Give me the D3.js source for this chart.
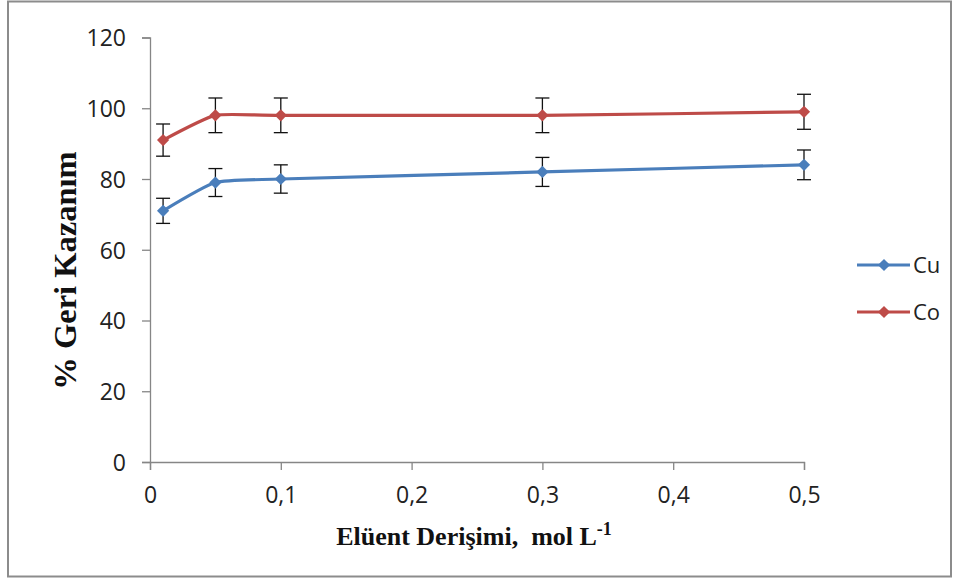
<!DOCTYPE html>
<html><head><meta charset="utf-8">
<script src="https://cdn.jsdelivr.net/npm/d3@7"></script>
<style>body{margin:0;background:#fff}</style>
</head><body>
<svg id="c" width="964" height="580"></svg>
<script>
const xValues = [0.01, 0.05, 0.1, 0.3, 0.5];
const cuValues = [71, 79, 80, 82, 84];
const coValues = [91, 98, 98, 98, 99];
const cuErr = [3.55, 3.95, 4, 4.1, 4.2];
const coErr = [4.55, 4.9, 4.9, 4.9, 4.95];
const xTicks = [0, 0.1, 0.2, 0.3, 0.4, 0.5];
const yTicks = [0, 20, 40, 60, 80, 100, 120];
const seriesNames = ["Cu", "Co"];
const colors = ["#4A7EBB", "#BE4B48"];

const svg = d3.select("#c");
svg.append("rect").attr("x", 8).attr("y", 1.5).attr("width", 943).attr("height", 575)
  .attr("fill", "#fff").attr("stroke", "#8c8c8c").attr("stroke-width", 2);

const x = d3.scaleLinear().domain([0, 0.5]).range([150, 804]);
const y = d3.scaleLinear().domain([0, 120]).range([462, 37.5]);

const fmt = d => String(d).replace(".", ",");
const axisColor = "#868686";
const sans = "'Open Sans', 'Liberation Sans', sans-serif";

const gx = svg.append("g").attr("transform", "translate(0,462)")
  .call(d3.axisBottom(x).tickValues(xTicks).tickFormat(fmt).tickSize(8).tickPadding(17));
const gy = svg.append("g").attr("transform", "translate(150,0)")
  .call(d3.axisLeft(y).tickValues(yTicks).tickSize(8).tickPadding(16));
[gx, gy].forEach(g => {
  g.select(".domain").attr("stroke", axisColor).attr("stroke-width", 1.3);
  g.selectAll(".tick line").attr("stroke", axisColor).attr("stroke-width", 1.3);
  g.selectAll("text").attr("font-family", sans)
    .attr("font-size", 23).attr("fill", "#222");
});
gy.selectAll("text").attr("dy", "0.36em");

const data = [cuValues, coValues];
const errs = [cuErr, coErr];
const line = d3.line().x(d => x(d[0])).y(d => y(d[1])).curve(d3.curveCardinal.tension(0.5));
const diamond = d3.symbol().type(d3.symbolDiamond2).size(95);

data.forEach((vals, s) => {
  const pts = xValues.map((xv, i) => [xv, vals[i], errs[s][i]]);
  const eg = svg.append("g").attr("stroke", "#111").attr("stroke-width", 1.3);
  pts.forEach(p => {
    const cx = x(p[0]);
    eg.append("line").attr("x1", cx).attr("x2", cx).attr("y1", y(p[1] + p[2])).attr("y2", y(p[1] - p[2]));
    eg.append("line").attr("x1", cx - 7).attr("x2", cx + 7).attr("y1", y(p[1] + p[2])).attr("y2", y(p[1] + p[2]));
    eg.append("line").attr("x1", cx - 7).attr("x2", cx + 7).attr("y1", y(p[1] - p[2])).attr("y2", y(p[1] - p[2]));
  });
  svg.append("path").datum(pts).attr("d", line).attr("fill", "none")
    .attr("stroke", colors[s]).attr("stroke-width", 3.2).attr("stroke-linejoin", "round");
  svg.append("g").selectAll("path").data(pts).join("path")
    .attr("d", diamond).attr("transform", d => `translate(${x(d[0])},${y(d[1])})`)
    .attr("fill", colors[s]);
});

seriesNames.forEach((n, i) => {
  const ly = 265 + i * 47;
  svg.append("line").attr("x1", 857).attr("x2", 910).attr("y1", ly).attr("y2", ly)
    .attr("stroke", colors[i]).attr("stroke-width", 3.2);
  svg.append("path").attr("d", diamond).attr("transform", `translate(884,${ly})`).attr("fill", colors[i]);
  svg.append("text").attr("x", 913).attr("y", ly).attr("dy", "0.36em")
    .attr("font-family", sans).attr("font-size", 22)
    .attr("fill", "#222").text(n);
});

svg.append("text").attr("transform", "translate(76,270.5) rotate(-90)").attr("text-anchor", "middle")
  .attr("font-family", "'Liberation Serif', 'Times New Roman', serif").attr("font-weight", "bold")
  .attr("font-size", 32.5).attr("fill", "#111").text("% Geri Kazanım");
const xt = svg.append("text").attr("x", 474).attr("y", 545).attr("text-anchor", "middle")
  .attr("font-family", "'Liberation Serif', 'Times New Roman', serif").attr("font-weight", "bold")
  .attr("font-size", 26).attr("fill", "#111").attr("xml:space", "preserve");
xt.append("tspan").text("Elüent Derişimi,  mol L");
xt.append("tspan").attr("dy", -10).attr("font-size", 18).text("-1");
</script>
</body></html>
